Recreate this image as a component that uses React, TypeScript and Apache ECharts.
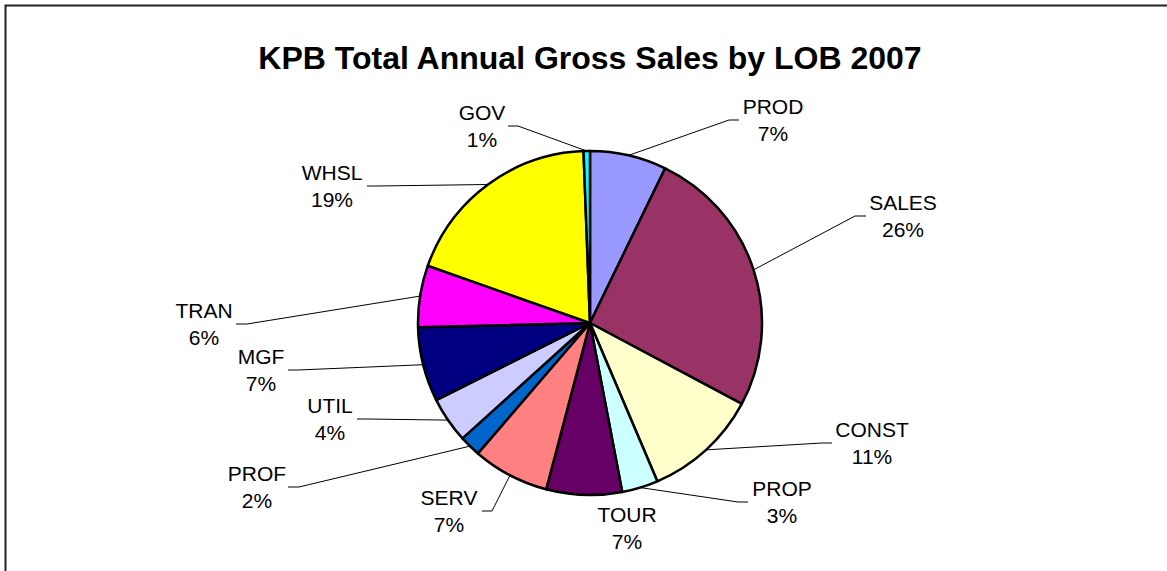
import React, { useEffect, useRef } from 'react';
import * as echarts from 'echarts';

const chartTitle = 'KPB Total Annual Gross Sales by LOB 2007';
const categories = ['PROD', 'SALES', 'CONST', 'PROP', 'TOUR', 'SERV', 'PROF', 'UTIL', 'MGF', 'TRAN', 'WHSL', 'GOV'];
const values = [7.2, 25.6, 10.8, 3.4, 7.1, 7.2, 2.0, 4.3, 7.0, 5.8, 19.0, 0.6];
const colors = ['#9999FF', '#993366', '#FFFFCC', '#CCFFFF', '#660066', '#FF8080', '#0066CC', '#CCCCFF', '#000080', '#FF00FF', '#FFFF00', '#00FFFF'];

// label layout: [label centre x, label centre y, leader end x (near text), leader elbow x] ; null end => no leader
const labelPos: (number | null)[][] = [
  [773, 120, 739, 729],
  [903, 216, 866, 855],
  [872, 443, 832, 822],
  [782, 502, 748, 738],
  [627, 528, null, null],
  [449, 511, 482, 492],
  [257, 487, 288, 299],
  [330, 419, 357, 368],
  [261, 370, 288, 298],
  [204, 324, 236, 247],
  [332, 186, 367, 377],
  [482, 126, 508, 518],
];

const CX = 590;
const CY = 323;
const R = 172;
const FONT = "'Liberation Sans', Arial, sans-serif";

export default function App() {
  const ref = useRef<HTMLDivElement>(null);
  useEffect(() => {
    document.body.style.margin = '0';
    if (!ref.current) return;
    const chart = echarts.init(ref.current, null, { renderer: 'svg' });
    const total = values.reduce((a, b) => a + b, 0);
    const mids: number[] = [];
    let cum = 0;
    values.forEach((v) => {
      mids.push(((cum + v / 2) / total) * 2 * Math.PI);
      cum += v;
    });
    const option: any = {
      animation: false,
      backgroundColor: '#fff',
      graphic: [
        {
          type: 'rect',
          shape: { x: 5.5, y: 5.5, width: 1400, height: 800 },
          style: { fill: 'none', stroke: '#222', lineWidth: 2 },
          silent: true,
        },
        {
          type: 'text',
          x: 590,
          y: 58,
          style: {
            text: chartTitle,
            fontFamily: FONT,
            fontSize: 32,
            fontWeight: 'bold',
            fill: '#000',
            align: 'center',
            verticalAlign: 'middle',
          },
        },
      ],
      series: [
        {
          type: 'pie',
          center: [CX, CY],
          radius: [0, R],
          startAngle: 90,
          clockwise: true,
          avoidLabelOverlap: false,
          emphasis: { disabled: true },
          itemStyle: { borderColor: '#000', borderWidth: 2.5 },
          label: {
            show: true,
            position: 'outside',
            fontFamily: FONT,
            fontSize: 21,
            lineHeight: 27,
            color: '#000',
            formatter: (p: any) => `${p.name}\n${Math.round(p.percent)}%`,
          },
          labelLine: { show: true, length: 10, length2: 10, lineStyle: { color: '#000', width: 1 } },
          labelLayout: (params: any) => {
            const i = params.dataIndex;
            const [lx, ly, ex, bx] = labelPos[i];
            const res: any = { x: lx, y: ly, align: 'center', verticalAlign: 'middle' };
            if (ex != null && bx != null) {
              const a = mids[i];
              const px = CX + R * Math.sin(a);
              const py = CY - R * Math.cos(a);
              res.labelLinePoints = [
                [px, py],
                [bx, ly],
                [ex, ly],
              ];
            }
            return res;
          },
          data: categories.map((name, i) => ({
            name,
            value: values[i],
            itemStyle: { color: colors[i] },
            labelLine: labelPos[i][2] == null ? { show: false } : undefined,
          })),
        },
      ],
    };
    chart.setOption(option);
    return () => chart.dispose();
  }, []);
  return <div ref={ref} style={{ width: 1167, height: 571 }} />;
}
